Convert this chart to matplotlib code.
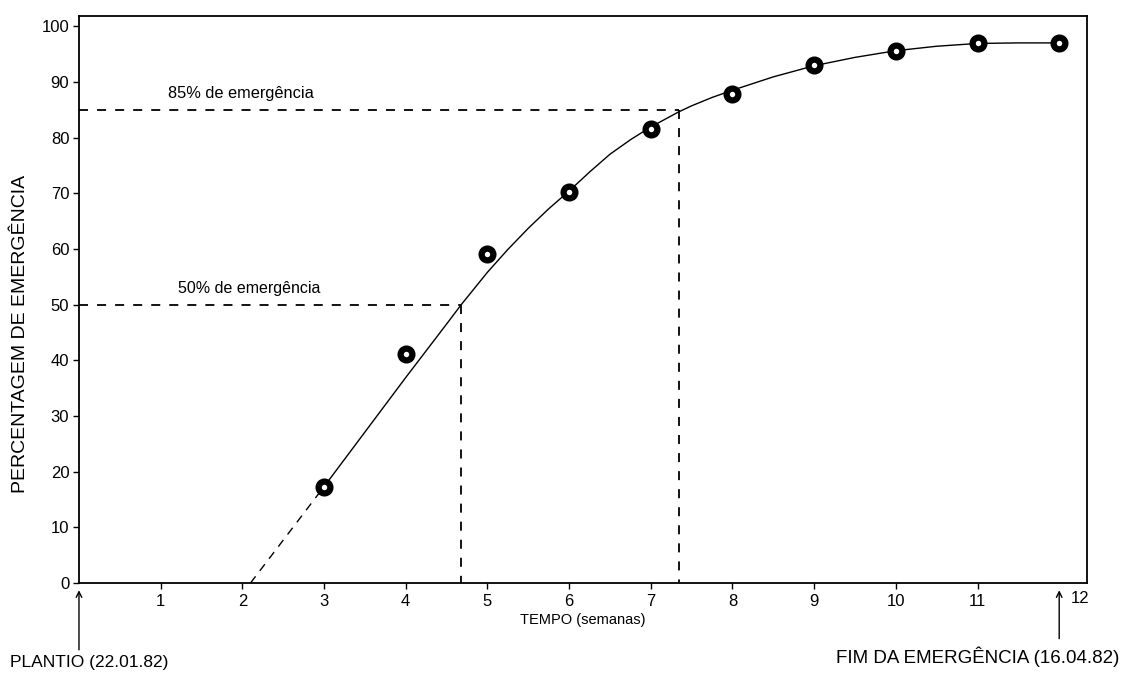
import matplotlib
matplotlib.use("Agg")
import matplotlib.pyplot as plt

plt.rcParams['font.family'] = ['Liberation Sans', 'DejaVu Sans']

# observed points (weeks after planting, % emergence)
weeks = [3, 4, 5, 6, 7, 8, 9, 10, 11, 12]
emergence = [17.2, 41.1, 59.1, 70.3, 81.5, 87.8, 93.0, 95.6, 97.0, 97.0]

# fitted curve
curve_x = [3.0, 3.5, 4.0, 4.5, 4.68, 5.0, 5.25, 5.5, 5.75, 6.0, 6.25, 6.5, 6.75,
           7.0, 7.34, 7.5, 7.75, 8.0, 8.5, 9.0, 9.5, 10.0, 10.5, 11.0, 11.5, 12.0]
curve_y = [17.3, 27.1, 36.9, 46.5, 50.0, 55.8, 59.9, 63.7, 67.2, 70.4, 73.8, 77.0, 79.6,
           81.9, 84.6, 85.7, 87.2, 88.5, 90.9, 92.9, 94.4, 95.6, 96.4, 96.9, 97.0, 97.0]

# extrapolated start
extrap_x = [2.1, 3.0]
extrap_y = [0.0, 17.3]

# reference levels
t50, t85 = 4.68, 7.34

yticks = [0, 10, 20, 30, 40, 50, 60, 70, 80, 90, 100]
xticks = [1, 2, 3, 4, 5, 6, 7, 8, 9, 10, 11]

fig = plt.figure(figsize=(11.25, 6.74), dpi=100)
ax = fig.add_axes([0.0702, 0.135, 0.896, 0.841])

ax.plot(curve_x, curve_y, color='black', lw=1.0, zorder=2)
ax.plot(extrap_x, extrap_y, color='black', lw=1.0, ls=(0, (6, 5)), zorder=2)
ax.plot(weeks, emergence, 'o', ms=8.5, mfc='white', mec='black', mew=4.5, zorder=3)

dash = (0, (5, 5))
ax.plot([0, t50], [50, 50], color='black', lw=1.3, ls=dash)
ax.plot([t50, t50], [50, 0], color='black', lw=1.3, ls=dash)
ax.plot([0, t85], [85, 85], color='black', lw=1.3, ls=dash)
ax.plot([t85, t85], [85, 0], color='black', lw=1.3, ls=dash)

ax.text(1.21, 51.6, '50% de emergência', fontsize=11.5, ha='left', va='bottom')
ax.text(1.09, 86.6, '85% de emergência', fontsize=11.8, ha='left', va='bottom')

ax.set_xlim(0, 12.34)
ax.set_ylim(0, 101.8)
ax.set_xticks(xticks)
ax.set_yticks(yticks)
ax.tick_params(axis='both', direction='out', length=4, width=1.0, labelsize=12, pad=3)
ax.tick_params(axis='x', pad=4)
ax.text(12.25, -1.4, '12', fontsize=12, ha='center', va='top')

for s in ax.spines.values():
    s.set_linewidth(1.3)

ax.set_xlabel('TEMPO (semanas)', fontsize=10.5, labelpad=3)
ax.set_ylabel('PERCENTAGEM DE EMERGÊNCIA', fontsize=14)
ax.yaxis.set_label_coords(-0.05, 0.44)

ax.annotate('', xy=(0, -0.8), xytext=(0, -12.5), xycoords='data',
            arrowprops=dict(arrowstyle='->', color='black', lw=1.0),
            annotation_clip=False)
ax.text(-0.85, -14.3, 'PLANTIO (22.01.82)', fontsize=12.5, ha='left', va='center')

ax.annotate('', xy=(12.0, -0.8), xytext=(12.0, -10.5), xycoords='data',
            arrowprops=dict(arrowstyle='->', color='black', lw=1.0),
            annotation_clip=False)
ax.text(12.74, -13.3, 'FIM DA EMERGÊNCIA (16.04.82)', fontsize=13.5, ha='right', va='center')

fig.savefig('out.png', dpi=100)
